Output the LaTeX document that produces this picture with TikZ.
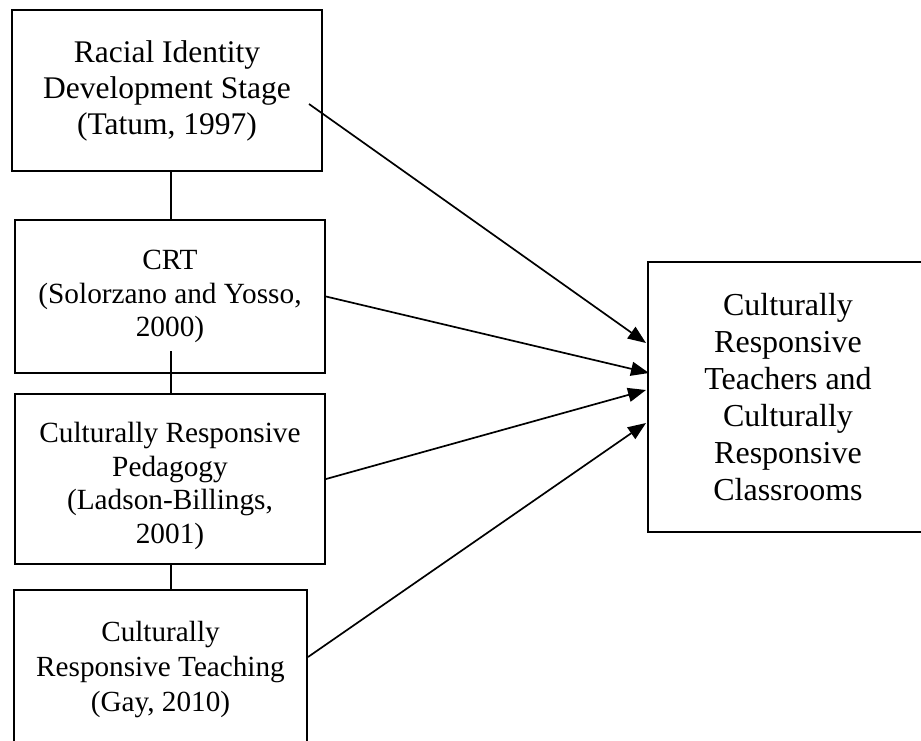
\documentclass[tikz,border=0pt]{standalone}
\usepackage{fontspec}
\setmainfont{Liberation Serif}
\usetikzlibrary{arrows.meta}
\begin{document}
\begin{tikzpicture}[x=1pt,y=-1pt,
  box/.style={draw, line width=2pt, inner sep=0pt, align=center},
  conn/.style={line width=1.7pt},
  arr/.style={line width=1.7pt, -{Triangle[length=18pt,width=14pt]}},
  fa/.style={font=\fontsize{31.5}{36}\selectfont},
  fb/.style={font=\fontsize{29.3}{33.5}\selectfont},
  fc/.style={font=\fontsize{29.2}{35}\selectfont},
  fr/.style={font=\fontsize{32}{37}\selectfont}]
\useasboundingbox (0,0) rectangle (921,740);
\node[box, fa, minimum width=310pt, minimum height=161pt] (b1) at (167,90.5)
  {Racial Identity\\Development Stage\\(Tatum, 1997)};
\node[box, fb, minimum width=310pt, minimum height=153pt] (b2) at (170,296.5)
  {CRT\\(Solorzano and Yosso,\\2000)};
\node[box, minimum width=310pt, minimum height=170pt] (b3) at (170,479) {};
\node[fb, align=center] (t3) at (170,486)
  {Culturally Responsive\\Pedagogy\\(Ladson-Billings,\\2001)};
\node[box, fc, minimum width=293pt, minimum height=160pt] (b4) at (160.5,670)
  {Culturally\\Responsive Teaching\\(Gay, 2010)};
\node[box, fr, minimum width=280pt, minimum height=270pt] (r) at (788,397)
  {Culturally\\Responsive\\Teachers and\\Culturally\\Responsive\\Classrooms};
\draw[conn] ([xshift=4pt]b1.south) -- ([xshift=1pt]b2.north);
\draw[conn] ([xshift=1pt,yshift=23pt]b2.south) -- ([xshift=1pt]b3.north);
\draw[conn] ([xshift=1pt]b3.south) -- ([xshift=10.5pt]b4.north);
\draw[arr] ([xshift=-14pt,yshift=-13.5pt]b1.east) -- ([xshift=-1pt,yshift=54pt]r.west);
\draw[arr] (b2.east) -- ([xshift=2pt,yshift=24pt]r.west);
\draw[arr] (b3.east) -- ([xshift=-1pt,yshift=7pt]r.west);
\draw[arr] ([yshift=13pt]b4.east) -- ([xshift=-1pt,yshift=-26pt]r.west);
\end{tikzpicture}
\end{document}
